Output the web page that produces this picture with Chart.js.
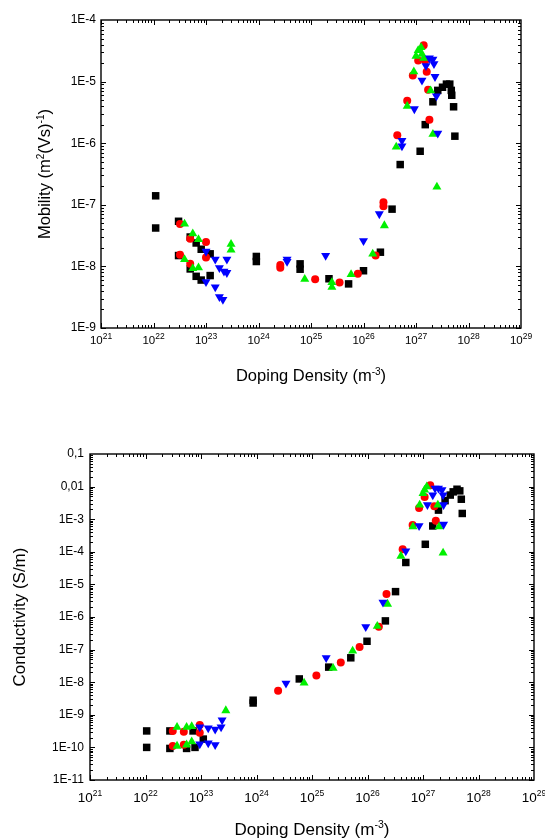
<!DOCTYPE html>
<html>
<head>
<meta charset="utf-8">
<script src="https://cdn.jsdelivr.net/npm/chart.js@4/dist/chart.umd.min.js"></script>
<style>
html,body{margin:0;padding:0;background:#fff;}
#wrap{position:relative;width:545px;height:839px;}
.box{position:absolute;left:0;width:545px;}
</style>
</head>
<body>
<div id="wrap">
  <div class="box" style="top:0;height:400px"><canvas id="chartMobility" width="545" height="400"></canvas></div>
  <div class="box" style="top:400px;height:439px"><canvas id="chartConductivity" width="545" height="439"></canvas></div>
</div>
<script>
// ------------------- DATA -------------------
const xTickExps = [21,22,23,24,25,26,27,28,29];

const mobTickValues = [1e-9,1e-8,1e-7,1e-6,1e-5,1e-4];
const mobTickLabels = ['1E-9','1E-8','1E-7','1E-6','1E-5','1E-4'];

const condTickValues = [1e-11,1e-10,1e-9,1e-8,1e-7,1e-6,1e-5,1e-4,1e-3,1e-2,1e-1];
const condTickLabels = ['1E-11','1E-10','1E-9','1E-8','1E-7','1E-6','1E-5','1E-4','1E-3','0,01','0,1'];

// mobility (top chart)
const mobBlackX = [1.1e22,1.1e22,3.0e22,3.0e22,5.0e22,6.5e22,8.1e22,1.2e23,5.0e22,6.5e22,8.1e22,1.2e23,9.1e23,9.1e23,6.2e24,6.2e24,2.2e25,5.2e25,1.0e26,2.1e26,3.5e26,5.0e26,1.2e27,1.5e27,2.1e27,2.6e27,3.2e27,3.8e27,4.4e27,4.7e27,4.8e27,5.2e27,5.5e27];
const mobBlackY = [1.4e-7,4.2e-8,5.4e-8,1.5e-8,3.0e-8,2.4e-8,1.9e-8,1.6e-8,9.1e-9,6.9e-9,6.0e-9,7.1e-9,1.45e-8,1.2e-8,1.1e-8,9.0e-9,6.3e-9,5.2e-9,8.5e-9,1.7e-8,8.5e-8,4.5e-7,7.4e-7,2.0e-6,4.7e-6,7.2e-6,8.1e-6,9.1e-6,9.1e-6,7.2e-6,6.0e-6,3.9e-6,1.3e-6];

const mobRedX = [3.2e22,5.0e22,1.0e23,1.0e23,3.2e22,5.0e22,2.6e24,2.6e24,1.2e25,3.5e25,7.8e25,1.7e26,2.4e26,2.4e26,4.4e26,6.8e26,8.7e26,1.1e27,1.4e27,1.5e27,1.6e27,1.7e27,1.8e27];
const mobRedY = [4.9e-8,2.8e-8,2.5e-8,1.4e-8,1.55e-8,1.1e-8,1.05e-8,9.5e-9,6.2e-9,5.5e-9,7.6e-9,1.5e-8,1.1e-7,9.5e-8,1.35e-6,4.9e-6,1.26e-5,2.2e-5,3.9e-5,2.2e-5,1.45e-5,7.4e-6,2.4e-6];

const mobGreenX = [3.9e22,5.6e22,7.2e22,3.0e23,3.0e23,3.9e22,5.6e22,7.2e22,7.6e24,2.5e25,2.5e25,5.8e25,1.5e26,2.5e26,4.2e26,6.8e26,9.1e26,1.0e27,1.1e27,1.25e27,1.3e27,1.4e27,1.9e27,2.1e27,2.5e27];
const mobGreenY = [4.9e-8,3.4e-8,2.75e-8,2.3e-8,1.85e-8,1.3e-8,9.3e-9,9.5e-9,6.2e-9,5.5e-9,4.6e-9,7.4e-9,1.6e-8,4.6e-8,8.7e-7,4.0e-6,1.45e-5,2.6e-5,3.2e-5,3.6e-5,2.8e-5,2.4e-5,7.1e-6,1.4e-6,1.95e-7];

const mobBlueX = [1.0e23,1.5e23,2.5e23,1.8e23,2.2e23,2.5e23,1.0e23,1.5e23,1.8e23,2.1e23,3.5e24,3.5e24,1.9e25,1.0e26,2.0e26,5.4e26,5.4e26,9.3e26,1.3e27,1.8e27,2.1e27,1.55e27,2.2e27,2.3e27,2.45e27,2.6e27];
const mobBlueY = [1.75e-8,1.3e-8,1.3e-8,9.5e-9,8.3e-9,7.9e-9,5.6e-9,4.6e-9,3.2e-9,2.9e-9,1.3e-8,1.2e-8,1.5e-8,2.6e-8,7.1e-8,1.1e-6,9.0e-7,3.6e-6,1.05e-5,2.4e-5,2.3e-5,1.8e-5,1.95e-5,1.2e-5,5.8e-6,1.45e-6];

// conductivity (bottom chart)
const condBlackX = [1.05e22,1.05e22,2.75e22,2.75e22,7.2e22,5.5e22,7.8e22,1.1e23,8.7e23,8.7e23,5.9e24,2.0e25,5.0e25,9.8e25,2.1e26,3.2e26,4.9e26,1.1e27,1.5e27,1.9e27,2.5e27,3.1e27,3.5e27,4.1e27,4.6e27,4.9e27,5.1e27];
const condBlackY = [3.2e-10,1.0e-10,3.2e-10,9.3e-11,3.2e-10,9.3e-11,1.0e-10,1.8e-10,2.8e-9,2.3e-9,1.26e-8,2.9e-8,5.6e-8,1.8e-7,7.6e-7,6.0e-6,4.7e-5,1.7e-4,6.2e-4,1.9e-3,3.7e-3,5.5e-3,6.9e-3,8.3e-3,7.4e-3,4.1e-3,1.5e-3];

const condRedX = [3.1e22,3.1e22,4.9e22,4.9e22,9.5e22,9.5e22,2.45e24,1.2e25,3.3e25,7.2e25,1.6e26,2.2e26,4.3e26,6.5e26,8.5e26,1.07e27,1.35e27,1.6e27,1.7e27];
const condRedY = [3.2e-10,1.1e-10,3.0e-10,1.2e-10,4.9e-10,2.8e-10,5.5e-9,1.6e-8,4.0e-8,1.2e-7,5.0e-7,5.1e-6,1.2e-4,6.6e-4,2.2e-3,4.8e-3,1.1e-2,2.5e-3,8.9e-4];

const condGreenX = [3.7e22,3.7e22,5.5e22,5.5e22,6.8e22,6.8e22,2.8e23,7.2e24,2.4e25,5.4e25,1.5e26,2.3e26,4.0e26,6.6e26,8.7e26,1.0e27,1.07e27,1.17e27,1.85e27,1.95e27,2.3e27];
const condGreenY = [4.2e-10,1.1e-10,4.2e-10,1.2e-10,4.4e-10,1.5e-10,1.35e-9,9.5e-9,2.7e-8,9.1e-8,5.2e-7,2.5e-6,7.4e-5,5.9e-4,2.75e-3,6.2e-3,7.9e-3,1.0e-2,2.75e-3,5.9e-4,9.3e-5];

const condBlueX = [9.5e22,9.5e22,1.35e23,1.35e23,1.8e23,1.8e23,2.3e23,2.4e23,3.4e24,1.8e25,9.3e25,1.9e26,4.9e26,8.5e26,1.2e27,1.5e27,1.65e27,1.9e27,2.2e27,2.3e27,2.35e27,2.35e27];
const condBlueY = [4.2e-10,1.26e-10,3.9e-10,1.35e-10,3.6e-10,1.2e-10,4.2e-10,6.9e-10,9.3e-9,5.6e-8,5.0e-7,2.8e-6,1.05e-4,6.3e-4,2.75e-3,5.5e-3,8.9e-3,8.9e-3,7.9e-3,5.5e-3,2.75e-3,6.9e-4];

// ------------------- HELPERS -------------------
const FONT = '"Liberation Sans", Arial, sans-serif';
Chart.defaults.font.family = FONT;
Chart.defaults.color = '#000';

function toPoints(xs, ys){
    return xs.map((x,i)=>({x:x, y:ys[i]}));
}

function seriesSet(blackX, blackY, redX, redY, greenX, greenY, blueX, blueY){
    return [
        {data:toPoints(blackX,blackY), pointStyle:'rect', pointRadius:5.3, backgroundColor:'#000', borderColor:'#000', borderWidth:0, order:4},
        {data:toPoints(redX,redY), pointStyle:'circle', pointRadius:4, backgroundColor:'#ff0000', borderColor:'#ff0000', borderWidth:0, order:3},
        {data:toPoints(greenX,greenY), pointStyle:'triangle', pointRadius:5.2, backgroundColor:'#00f000', borderColor:'#00f000', borderWidth:0, order:2},
        {data:toPoints(blueX,blueY), pointStyle:'triangle', pointRotation:180, pointRadius:5.2, backgroundColor:'#0000ff', borderColor:'#0000ff', borderWidth:0, order:1}
    ];
}

function partsWidth(ctx, parts, size, supSize){
    let w = 0;
    parts.forEach(p=>{
        ctx.font = (p[1] ? supSize : size) + 'px ' + FONT;
        w += ctx.measureText(p[0]).width;
    });
    return w;
}

// text with superscript pieces, centred on x, y is the baseline
function drawParts(ctx, parts, x, y, size, supSize, rise){
    let cx = x - partsWidth(ctx, parts, size, supSize)/2;
    ctx.textAlign = 'left';
    ctx.textBaseline = 'alphabetic';
    parts.forEach(p=>{
        ctx.font = (p[1] ? supSize : size) + 'px ' + FONT;
        ctx.fillText(p[0], cx, p[1] ? y - rise : y);
        cx += ctx.measureText(p[0]).width;
    });
}

// ------------------- FRAME, TICKS AND TITLES -------------------
const framePlugin = {
    id:'frame',
    afterDraw(chart, args, o){
        const ctx = chart.ctx;
        const a = chart.chartArea;
        const sx = chart.scales.x, sy = chart.scales.y;

        ctx.save();
        ctx.strokeStyle = '#000';
        ctx.lineWidth = 1.4;
        ctx.strokeRect(a.left, a.top, a.right - a.left, a.bottom - a.top);

        ctx.lineWidth = 1;
        ctx.beginPath();
        // x ticks, inward on bottom and top
        for(let e = o.xMin; e < o.xMax; e++){
            for(let m = 1; m <= 9; m++){
                const px = Math.round(sx.getPixelForValue(m * Math.pow(10,e))) + 0.5;
                const len = m === 1 ? 5 : 3;
                ctx.moveTo(px, a.bottom); ctx.lineTo(px, a.bottom - len);
                ctx.moveTo(px, a.top); ctx.lineTo(px, a.top + len);
            }
        }
        // y ticks, inward on left and right
        for(let e = o.yMin; e < o.yMax; e++){
            for(let m = 1; m <= 9; m++){
                const py = Math.round(sy.getPixelForValue(m * Math.pow(10,e))) + 0.5;
                const len = m === 1 ? 5 : 3;
                ctx.moveTo(a.left, py); ctx.lineTo(a.left + len, py);
                ctx.moveTo(a.right, py); ctx.lineTo(a.right - len, py);
            }
        }
        ctx.stroke();

        ctx.fillStyle = '#000';
        // x tick labels 10^n
        xTickExps.forEach(e=>{
            const px = sx.getPixelForValue(Math.pow(10,e));
            drawParts(ctx, [['10',false],[String(e),true]], px, o.xLabelY, o.xLabelSize, o.xLabelSup, o.xLabelRise);
        });

        // axis titles
        drawParts(ctx, o.xTitle, (a.left + a.right)/2, o.xTitleY, o.titleSize, o.titleSup, o.titleRise);

        ctx.save();
        ctx.translate(o.yTitleX, (a.top + a.bottom)/2);
        ctx.rotate(-Math.PI/2);
        drawParts(ctx, o.yTitle, 0, 0, o.titleSize, o.titleSup, o.titleRise);
        ctx.restore();

        ctx.restore();
    }
};

function makeChart(canvas, datasets, cfg){
    return new Chart(canvas, {
        type:'scatter',
        data:{datasets:datasets},
        plugins:[framePlugin],
        options:{
            responsive:false,
            animation:false,
            layout:{padding:{top:cfg.padTop, right:cfg.padRight, left:0, bottom:0}},
            plugins:{
                legend:{display:false},
                tooltip:{enabled:false},
                frame:cfg.frame
            },
            scales:{
                x:{
                    type:'logarithmic', min:1e21, max:1e29,
                    grid:{display:false}, border:{display:false},
                    ticks:{display:false},
                    afterFit:function(s){ s.height = cfg.xHeight; }
                },
                y:{
                    type:'logarithmic', min:cfg.yValues[0], max:cfg.yValues[cfg.yValues.length-1],
                    grid:{display:false, drawTicks:false}, border:{display:false},
                    afterBuildTicks:function(s){ s.ticks = cfg.yValues.map(v=>({value:v})); },
                    ticks:{
                        autoSkip:false, padding:cfg.yPad,
                        font:{size:12},
                        callback:function(v, i){ return cfg.yLabels[i]; }
                    },
                    afterFit:function(s){ s.width = cfg.yWidth; }
                }
            }
        }
    });
}

// ------------------- CHARTS -------------------
makeChart(document.getElementById('chartMobility'),
    seriesSet(mobBlackX,mobBlackY,mobRedX,mobRedY,mobGreenX,mobGreenY,mobBlueX,mobBlueY),
    {
        padTop:20, padRight:24, xHeight:72, yWidth:101, yPad:5,
        yValues:mobTickValues, yLabels:mobTickLabels,
        frame:{
            xMin:21, xMax:29, yMin:-9, yMax:-4,
            xLabelY:344, xLabelSize:11.5, xLabelSup:8.5, xLabelRise:5,
            xTitle:[['Doping Density (m',false],['-3',true],[')',false]],
            yTitle:[['Mobility (m',false],['2',true],['(Vs)',false],['-1',true],[')',false]],
            xTitleY:381, yTitleX:50,
            titleSize:16.5, titleSup:10, titleRise:6.5
        }
    });

makeChart(document.getElementById('chartConductivity'),
    seriesSet(condBlackX,condBlackY,condRedX,condRedY,condGreenX,condGreenY,condBlueX,condBlueY),
    {
        padTop:54, padRight:11, xHeight:59, yWidth:90, yPad:6,
        yValues:condTickValues, yLabels:condTickLabels,
        frame:{
            xMin:21, xMax:29, yMin:-11, yMax:-1,
            xLabelY:401.5, xLabelSize:13.5, xLabelSup:8.5, xLabelRise:6,
            xTitle:[['Doping Density (m',false],['-3',true],[')',false]],
            yTitle:[['Conductivity (S/m)',false]],
            xTitleY:435, yTitleX:25,
            titleSize:17, titleSup:10.5, titleRise:7
        }
    });
</script>
</body>
</html>
